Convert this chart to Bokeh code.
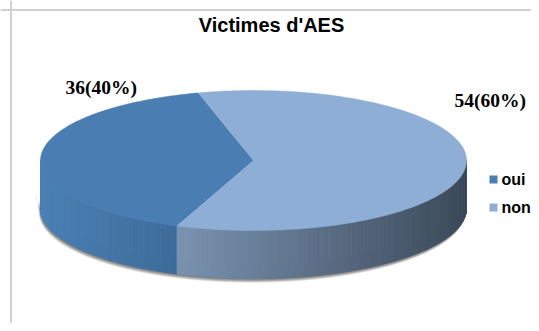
import numpy as np
from bokeh.plotting import figure
from bokeh.models import Span
from bokeh.core.properties import value
from bokeh.embed import file_html
from bokeh.resources import INLINE

# ---- data ----
title_text = "Victimes d'AES"
categories = ["oui", "non"]
counts = [36, 54]
top_colors = ["#4A7EB3", "#8EAED6"]
side_left_colors = ["#4C81B6", "#7A93B1"]
side_right_colors = ["#3D6C99", "#3C4A5A"]

# ---- layout (page pixel helpers) ----
W, H = 531, 323
OX, OY = 0, 0
def px(x):
    return x - OX
def py(y):
    return H - (y - OY)

cx, cy = px(253), py(160)
rx, ry, depth = 213.0, 70.0, 48.0
start_deg = 105.0

total = float(sum(counts))
fracs = [c / total for c in counts]
pcts = [round(f * 100) for f in fracs]
labels = [f"{c}({p}%)" for c, p in zip(counts, pcts)]
label_px = [65, 454]
label_py = [86.5, 99.5]

p = figure(width=W, height=H, x_range=(0, W), y_range=(0, H),
           output_backend="svg", toolbar_location=None, min_border=0)
p.axis.visible = False
p.grid.visible = False
p.outline_line_color = None
p.background_fill_color = "white"

def hex2rgb(h):
    h = h.lstrip("#")
    return np.array([int(h[i:i + 2], 16) for i in (0, 2, 4)], dtype=float)

def rgb2hex(c):
    c = np.clip(np.round(c), 0, 255).astype(int)
    return "#%02x%02x%02x" % tuple(c)

def ex(t):
    return cx + rx * np.cos(np.radians(t))

def ey(t, dz=0.0):
    return cy + ry * np.sin(np.radians(t)) - dz

# ---- shadow (soft, towards lower-left, below the side wall) ----
sh_xs, sh_ys, sh_alpha = [], [], []
ts = np.linspace(180, 360, 181)
for k in range(1, 8):
    off = k * 0.75
    xs = list(ex(ts) - off) + list(ex(ts[::-1]) - off * 0.3)
    ys = list(ey(ts, depth * 0.7)) + list(ey(ts[::-1], depth) - off * 0.8)
    sh_xs.append(xs)
    sh_ys.append(ys)
    sh_alpha.append(0.10)
p.patches(sh_xs, sh_ys, fill_color="black", fill_alpha=sh_alpha, line_color=None)

# ---- slice angles ----
angles = []
a = start_deg
for f in fracs:
    angles.append((a, a + f * 360.0))
    a += f * 360.0

# ---- side walls (gradient strips) ----
for i, (a0, a1) in enumerate(angles):
    for base in (0.0, 360.0):
        s0 = max(a0, 180.0 + base)
        s1 = min(a1, 360.0 + base)
        if s1 <= s0:
            continue
        n = int(max(2, (s1 - s0) * 2))
        tt = np.linspace(s0, s1, n + 1)
        xmin, xmax = ex(tt).min(), ex(tt).max()
        cl, cr = hex2rgb(side_left_colors[i]), hex2rgb(side_right_colors[i])
        xs_l, ys_l, cols = [], [], []
        for j in range(n):
            t0, t1 = tt[j], tt[j + 1]
            xs_l.append([ex(t0), ex(t1), ex(t1), ex(t0)])
            ys_l.append([ey(t0), ey(t1), ey(t1, depth), ey(t0, depth)])
            xm = 0.5 * (ex(t0) + ex(t1))
            fr = (xm - xmin) / (xmax - xmin) if xmax > xmin else 0
            cols.append(rgb2hex(cl + (cr - cl) * fr))
        p.patches(xs_l, ys_l, fill_color=cols, line_color=cols, line_width=1)

# ---- top faces ----
for i, (a0, a1) in enumerate(angles):
    tt = np.linspace(a0, a1, 200)
    xs = [cx] + list(ex(tt))
    ys = [cy] + list(ey(tt))
    p.patch(xs, ys, fill_color=top_colors[i], line_color=top_colors[i], line_width=0.5)

# ---- data labels ----
p.text(x=[px(v) for v in label_px], y=[py(v) for v in label_py], text=labels,
       text_font=value("Liberation Serif"), text_font_style="bold",
       text_font_size="19.5px", text_color="black", text_baseline="middle")

# ---- title ----
p.text(x=[px(271)], y=[py(24)], text=[title_text], text_font=value("Liberation Sans"),
       text_font_style="bold", text_font_size="20px", text_color="black",
       text_align="center", text_baseline="middle")

# ---- legend ----
leg_py = [179, 207]
p.scatter(x=[px(493)] * len(categories), y=[py(v) for v in leg_py], marker="square",
          size=8, fill_color=top_colors, line_color=None)
p.text(x=[px(501)] * len(categories), y=[py(v) for v in leg_py], text=categories,
       text_font=value("Liberation Sans"), text_font_style="bold",
       text_font_size="16px", text_color="black", text_baseline="middle")

# ---- chart border (top & left visible) ----
p.add_layout(Span(location=py(9.5), dimension="width", line_color="#D0D0D0", line_width=2))
p.add_layout(Span(location=px(10.5), dimension="height", line_color="#D0D0D0", line_width=2))

open("out.html", "w").write(file_html(p, INLINE))
